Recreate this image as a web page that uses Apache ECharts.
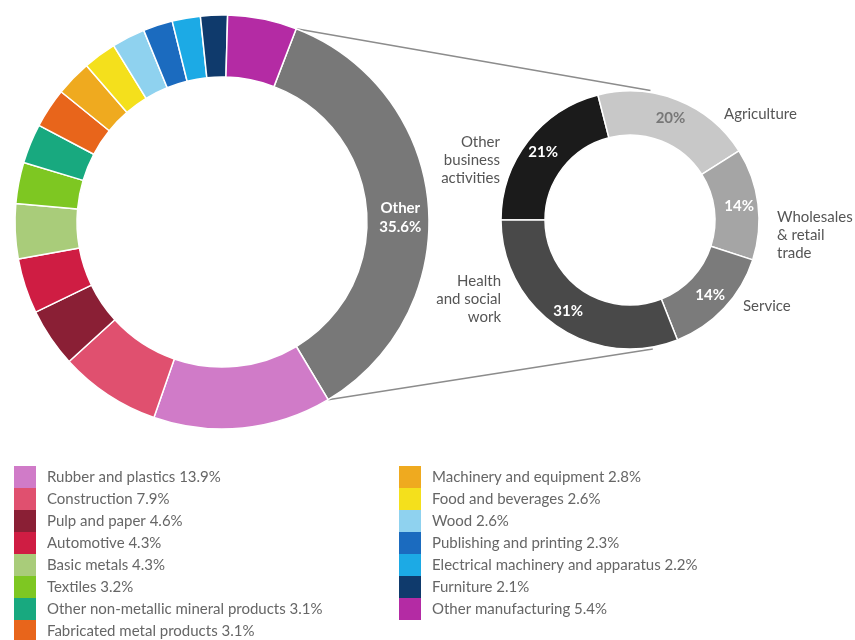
<!DOCTYPE html>
<html>
<head>
<meta charset="utf-8">
<script src="https://cdn.jsdelivr.net/npm/echarts@6/dist/echarts.min.js"></script>
<style>
  html, body { margin: 0; padding: 0; background: #fff; }
  #chart { width: 855px; height: 640px; }
</style>
</head>
<body>
<div id="chart"></div>
<script>
// sectors of the big ring, clockwise from "Other"
const sectors = [
  'Other', 'Rubber and plastics', 'Construction', 'Pulp and paper', 'Automotive',
  'Basic metals', 'Textiles', 'Other non-metallic mineral products', 'Fabricated metal products',
  'Machinery and equipment', 'Food and beverages', 'Wood', 'Publishing and printing',
  'Electrical machinery and apparatus', 'Furniture', 'Other manufacturing'
];
const sectorShares = [35.6, 13.9, 7.9, 4.6, 4.3, 4.3, 3.2, 3.1, 3.1, 2.8, 2.6, 2.6, 2.3, 2.2, 2.1, 5.4];
const sectorColors = [
  '#787878', '#d07bc8', '#e0506f', '#8a1f35', '#cf1d43', '#a9cc7a', '#7ec722', '#18a97f',
  '#e8651b', '#efaa1f', '#f4e01c', '#8fd2ef', '#1b6bbf', '#1caae5', '#0f3a6c', '#b42ba4'
];

// breakdown of "Other"
const otherSectors = ['Other business activities', 'Agriculture', 'Wholesales & retail trade', 'Service', 'Health and social work'];
const otherShares = [21, 20, 14, 14, 31];
const otherColors = ['#1b1b1b', '#c8c8c8', '#a5a5a5', '#7b7b7b', '#494949'];
const otherLabels = ['Other\nbusiness\nactivities', 'Agriculture', 'Wholesales\n& retail\ntrade', 'Service', 'Health\nand social\nwork'];

const legendLeft = sectors.slice(1, 9);
const legendRight = sectors.slice(9);

// layout
const bigCenter = [222, 222], bigRadius = [145, 207], bigStart = 69;
const smallCenter = [630, 220], smallRadius = [85, 129], smallStart = 180;
const outerLabelPos = [[500, 160, 'right'], [724, 114, 'left'], [777, 235, 'left'], [743, 306, 'left'], [501, 299, 'right']];
const font = 'Lato, "Open Sans", sans-serif';

const chart = echarts.init(document.getElementById('chart'));

// connector lines: from the edges of "Other" to the small ring
const rad = d => d * Math.PI / 180;
const pt = (c, r, deg) => [c[0] + r * Math.cos(rad(deg)), c[1] - r * Math.sin(rad(deg))];
const otherEnd = bigStart - 360 * sectorShares[0] / 100;
const p1 = pt(bigCenter, bigRadius[1], bigStart), q1 = pt(smallCenter, smallRadius[1] + 2, 81);
const p2 = pt(bigCenter, bigRadius[1], otherEnd), q2 = pt(smallCenter, smallRadius[1] + 2, -80);

const shareOf = {};
sectors.forEach((n, i) => { shareOf[n] = sectorShares[i]; });

const legendBase = {
  orient: 'vertical', top: 466, height: 200, padding: 0, itemWidth: 22, itemHeight: 22, itemGap: 0,
  icon: 'rect', selectedMode: false,
  itemStyle: { borderWidth: 0 },
  formatter: n => n + ' ' + shareOf[n] + '%',
  textStyle: { fontFamily: font, fontSize: 15, lineHeight: 18, color: '#666', padding: [0, 0, 0, 6] }
};

chart.setOption({
  animation: false,
  legend: [
    Object.assign({}, legendBase, { left: 14, data: legendLeft }),
    Object.assign({}, legendBase, { left: 399, data: legendRight })
  ],
  graphic: [
    { type: 'line', z: 0, shape: { x1: p1[0], y1: p1[1], x2: q1[0], y2: q1[1] }, style: { stroke: '#8c8c8c', lineWidth: 1.5 } },
    { type: 'line', z: 0, shape: { x1: p2[0], y1: p2[1], x2: q2[0], y2: q2[1] }, style: { stroke: '#8c8c8c', lineWidth: 1.5 } }
  ],
  series: [
    {
      type: 'pie', center: bigCenter, radius: bigRadius, startAngle: bigStart,
      avoidLabelOverlap: false, silent: true,
      itemStyle: { borderColor: '#fff', borderWidth: 1.5 },
      label: { show: false },
      labelLine: { show: false },
      labelLayout: p => (p.dataIndex === 0 ? { dy: 11 } : {}),
      data: sectors.map((n, i) => ({
        name: n, value: sectorShares[i], itemStyle: { color: sectorColors[i] },
        label: i === 0 ? {
          show: true, position: 'inside', formatter: '{b}\n{c}%',
          color: '#fff', fontFamily: font, fontWeight: 'bold', fontSize: 15, lineHeight: 19
        } : { show: false }
      }))
    },
    {
      type: 'pie', center: smallCenter, radius: smallRadius, startAngle: smallStart,
      avoidLabelOverlap: false, silent: true,
      itemStyle: { borderColor: '#fff', borderWidth: 1.5 },
      label: { show: true, position: 'inside', formatter: '{c}%', fontFamily: font, fontWeight: 'bold', fontSize: 15 },
      labelLine: { show: false },
      data: otherSectors.map((n, i) => ({
        name: n, value: otherShares[i], itemStyle: { color: otherColors[i] },
        label: { color: i === 1 ? '#777' : '#fff' }
      }))
    },
    {
      type: 'pie', center: smallCenter, radius: smallRadius, startAngle: smallStart,
      avoidLabelOverlap: false, silent: true,
      itemStyle: { color: 'transparent', borderWidth: 0 },
      label: {
        show: true, position: 'outside', fontFamily: font, fontSize: 15, lineHeight: 18, color: '#555',
        formatter: p => otherLabels[p.dataIndex]
      },
      labelLine: { show: false },
      labelLayout: p => ({
        x: outerLabelPos[p.dataIndex][0], y: outerLabelPos[p.dataIndex][1],
        align: outerLabelPos[p.dataIndex][2], verticalAlign: 'middle'
      }),
      data: otherSectors.map((n, i) => ({ name: n + ' ', value: otherShares[i] }))
    }
  ]
});
</script>
</body>
</html>
